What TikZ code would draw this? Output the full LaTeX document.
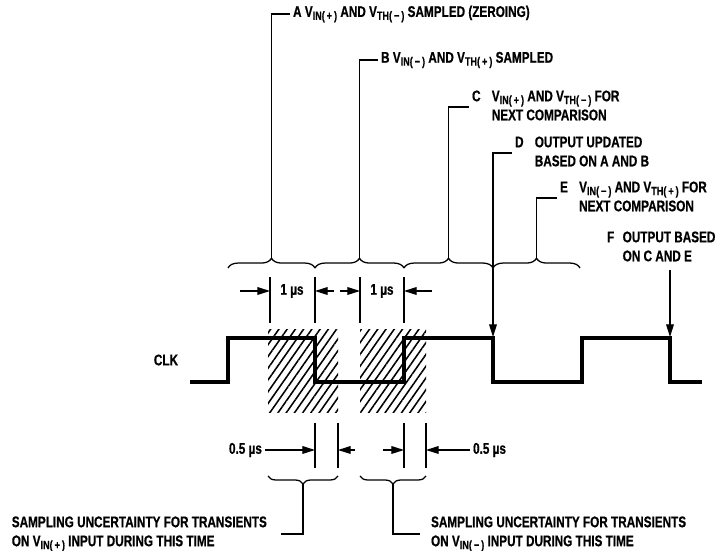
\documentclass[tikz,border=0pt]{standalone}
\usepackage{fontspec}
\newfontfamily\lblfont{Liberation Sans}[FakeStretch=0.76, BoldFeatures={FakeBold=0.6}]
\usepackage{tikz}
\usetikzlibrary{arrows.meta,positioning,calc,decorations.pathreplacing,patterns.meta}

\newcommand{\vin}[1]{V\raisebox{-.35ex}{\fontsize{8.5}{9}\selectfont IN(\,#1\,)}}
\newcommand{\vth}[1]{V\raisebox{-.35ex}{\fontsize{8.5}{9}\selectfont TH(\,#1\,)}}
\newcommand{\lettered}[4][8pt]{\begin{tabular}{@{}l@{\hspace{#1}}l@{}}#2 & #3\\ & #4\end{tabular}}

\begin{document}
\begin{tikzpicture}[
  x=0.25mm, y=-0.25mm,
  lbl/.style={font=\lblfont\bfseries\fontsize{11}{13.5}\selectfont, align=left, inner sep=2pt},
  clk/.style={line width=2.8pt, line join=miter},
  thin/.style={line width=0.8pt},
  arr/.style={-{Triangle[length=9pt,width=5.5pt]}, line width=0.8pt},
  topbrace/.style={decorate, decoration={brace, amplitude=7pt}, line width=0.9pt},
  botbrace/.style={decorate, decoration={brace, mirror, amplitude=5.7pt}, line width=0.9pt},
  hatch/.style={pattern={Lines[angle=55,distance=4.8pt,line width=1.1pt]}}
]
  \useasboundingbox (0,0) rectangle (720,551);

  % sampling windows
  \fill[hatch] (268,330) rectangle (338,413);
  \fill[hatch] (360,330) rectangle (426,413);

  % clock
  \node[lbl] (clk) at (166,360) {CLK};
  \draw[clk] (190,382) -- (228,382) -- (228,338) -- (315,338) -- (315,382)
    -- (404,382) -- (404,338) -- (493,338) -- (493,382) -- (582,382)
    -- (582,338) -- (670,338) -- (670,382) -- (702,382);
  \coordinate (edgeD) at (493,337);
  \coordinate (edgeF) at (670,337);

  % brace row
  \coordinate (b0) at (228,268);
  \coordinate (b1) at (315,268);
  \coordinate (b2) at (404,268);
  \coordinate (b3) at (493,268);
  \coordinate (b4) at (580,268);
  \draw[topbrace] (b0) -- (b1);
  \draw[topbrace] (b1) -- (b2);
  \draw[topbrace] (b2) -- (b3);
  \draw[topbrace] (b3) -- (b4);
  \coordinate (tipA) at ($(b0)!.5!(b1)+(0,-10)$);
  \coordinate (tipB) at ($(b1)!.5!(b2)+(0,-10)$);
  \coordinate (tipC) at ($(b2)!.5!(b3)+(0,-10)$);
  \coordinate (tipE) at ($(b3)!.5!(b4)+(0,-10)$);

  % top labels
  \node[lbl, anchor=west] (labA) at (290,14) {A \vin{+} AND \vth{−} SAMPLED (ZEROING)};
  \node[lbl, anchor=west] (labB) at (378,60) {B \vin{−} AND \vth{+} SAMPLED};
  \node[lbl, anchor=west] (labC) at (469,107) {\lettered{C}{\vin{+} AND \vth{−} FOR}{NEXT COMPARISON}};
  \node[lbl, anchor=west] (labD) at (512,153) {\lettered{D}{OUTPUT UPDATED}{BASED ON A AND B}};
  \node[lbl, anchor=west] (labE) at (557,198) {\lettered{E}{\vin{−} AND \vth{+} FOR}{NEXT COMPARISON}};
  \node[lbl, anchor=west] (labF) at (604,248) {\lettered[6pt]{F}{OUTPUT BASED}{ON C AND E}};

  \draw[thin] (tipA) |- (labA.west);
  \draw[thin] (tipB) |- (labB.west);
  \draw[thin] (tipC) |- (labC.west);
  \draw[thin] (tipE) |- (labE.west);
  \draw[arr] (labD.west) -| (edgeD);
  \draw[arr] (edgeF |- labF.south) -- (edgeF);

  % 1 us marks
  \foreach \x in {270,315,360,404}
    \draw[thin] (\x,277) -- (\x,323);
  \draw[arr] (240,291) -- (270,291);
  \draw[arr] (334,291) -- (315,291);
  \draw[arr] (340,291) -- (360,291);
  \draw[arr] (432,291) -- (404,291);
  \node[lbl] (us1) at (292,291) {1 µs};
  \node[lbl] (us2) at (382,291) {1 µs};

  % 0.5 us marks
  \foreach \x in {315,338,404,426}
    \draw[thin] (\x,423) -- (\x,468);
  \node[lbl, anchor=east] (half1) at (265,450) {0.5 µs};
  \node[lbl, anchor=west] (half2) at (470,450) {0.5 µs};
  \draw[arr] (half1.east) -- (315,450);
  \draw[arr] (355,450) -- (338,450);
  \draw[arr] (383,450) -- (404,450);
  \draw[arr] (half2.west) -- (426,450);

  % uncertainty braces
  \draw[botbrace] (268,476) -- (338,476);
  \draw[botbrace] (360,476) -- (426,476);
  \coordinate (tipL) at (303,484);
  \coordinate (tipR) at (393,484);
  \node[lbl, anchor=east] (uncL) at (270,534) {SAMPLING UNCERTAINTY FOR TRANSIENTS\\ON \vin{+} INPUT DURING THIS TIME};
  \node[lbl, anchor=west] (uncR) at (428,534) {SAMPLING UNCERTAINTY FOR TRANSIENTS\\ON \vin{−} INPUT DURING THIS TIME};
  \draw[thin] (tipL) |- ([xshift=8pt]uncL.east);
  \draw[thin] (tipR) |- ([xshift=-6pt]uncR.west);
\end{tikzpicture}
\end{document}
